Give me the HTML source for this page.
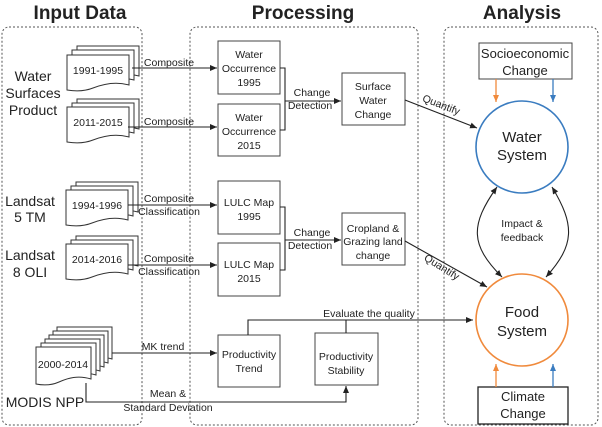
<!DOCTYPE html>
<html><head><meta charset="utf-8"><style>
html,body{margin:0;padding:0;background:#fff;}
svg{display:block;font-family:"Liberation Sans","DejaVu Sans",sans-serif;}
text{fill:#222;}
</style></head><body>
<svg width="602" height="427" viewBox="0 0 602 427" xmlns="http://www.w3.org/2000/svg">
<defs>
<marker id="a" markerWidth="8" markerHeight="8" refX="7" refY="4" orient="auto" markerUnits="userSpaceOnUse"><path d="M0,1 L7,4 L0,7 z" fill="#222"/></marker>
<marker id="ao" markerWidth="8" markerHeight="8" refX="7" refY="4" orient="auto" markerUnits="userSpaceOnUse"><path d="M0,1 L7,4 L0,7 z" fill="#f08a3c"/></marker>
<marker id="ab" markerWidth="8" markerHeight="8" refX="7" refY="4" orient="auto" markerUnits="userSpaceOnUse"><path d="M0,1 L7,4 L0,7 z" fill="#3a7cc0"/></marker>
<marker id="as" markerWidth="8" markerHeight="8" refX="1" refY="4" orient="auto" markerUnits="userSpaceOnUse"><path d="M8,1 L1,4 L8,7 z" fill="#222"/></marker>
<path id="d" d="M0,0 H62 V30 C48,26 36,29 26,33 C16,37 6,36 0,35 Z" fill="#fff" stroke="#333" stroke-width="1"/>
<path id="m" d="M0,0 H55 V32 C42,28 32,31 23,35 C14,39 5,38 0,37 Z" fill="#fff" stroke="#333" stroke-width="1"/>
</defs>

<g font-weight="bold" font-size="19" text-anchor="middle">
<text x="80" y="19">Input Data</text>
<text x="303" y="19">Processing</text>
<text x="522" y="19">Analysis</text>
</g>

<g fill="none" stroke="#555" stroke-dasharray="2,2" stroke-width="1">
<rect x="2" y="27" width="140" height="398" rx="7"/>
<rect x="190" y="27" width="228" height="398" rx="7"/>
<rect x="444" y="27" width="154" height="398" rx="7"/>
</g>

<g font-size="14" text-anchor="middle">
<text x="33" y="81">Water</text>
<text x="33" y="98">Surfaces</text>
<text x="33" y="115">Product</text>
<text x="30" y="206">Landsat</text>
<text x="30" y="222">5 TM</text>
<text x="30" y="260">Landsat</text>
<text x="30" y="277">8 OLI</text>
<text x="45" y="407">MODIS NPP</text>
</g>

<g>
<use href="#d" x="77" y="46"/><use href="#d" x="72" y="50"/><use href="#d" x="67" y="55"/>
<use href="#d" x="77" y="99"/><use href="#d" x="72" y="103"/><use href="#d" x="67" y="107"/>
<use href="#d" x="76" y="182"/><use href="#d" x="71" y="186"/><use href="#d" x="66" y="190"/>
<use href="#d" x="76" y="236"/><use href="#d" x="71" y="240"/><use href="#d" x="66" y="244"/>
<use href="#m" x="57" y="327"/><use href="#m" x="53" y="331"/><use href="#m" x="49" y="335"/><use href="#m" x="45" y="339"/><use href="#m" x="41" y="343"/><use href="#m" x="36" y="347"/>
</g>
<g font-size="10.5" text-anchor="middle">
<text x="98" y="74">1991-1995</text>
<text x="98" y="126">2011-2015</text>
<text x="97" y="209">1994-1996</text>
<text x="97" y="263">2014-2016</text>
<text x="63" y="368">2000-2014</text>
</g>

<g fill="#fff" stroke="#444" stroke-width="1">
<rect x="218" y="41" width="62" height="53"/>
<rect x="218" y="104" width="62" height="52"/>
<rect x="218" y="181" width="62" height="53"/>
<rect x="218" y="243" width="62" height="53"/>
<rect x="218" y="335" width="62" height="52"/>
<rect x="315" y="333" width="63" height="52"/>
<rect x="342" y="73" width="63" height="52"/>
<rect x="342" y="213" width="63" height="52"/>
<rect x="479" y="43" width="93" height="36"/>
<rect x="478" y="387" width="90" height="37" stroke="#222" stroke-width="1.3"/>
</g>
<g font-size="10.5" text-anchor="middle">
<text x="249" y="58">Water</text><text x="249" y="72">Occurrence</text><text x="249" y="86">1995</text>
<text x="249" y="121">Water</text><text x="249" y="135">Occurrence</text><text x="249" y="149">2015</text>
<text x="249" y="206">LULC Map</text><text x="249" y="220">1995</text>
<text x="249" y="268">LULC Map</text><text x="249" y="282">2015</text>
<text x="249" y="358">Productivity</text><text x="249" y="372">Trend</text>
<text x="346" y="360">Productivity</text><text x="346" y="374">Stability</text>
<text x="373" y="90">Surface</text><text x="373" y="104">Water</text><text x="373" y="118">Change</text>
<text x="373" y="232">Cropland &amp;</text><text x="373" y="245">Grazing land</text><text x="373" y="259">change</text>
</g>
<g font-size="13" text-anchor="middle">
<text x="525" y="58">Socioeconomic</text><text x="525" y="75">Change</text>
<text x="523" y="401">Climate</text><text x="523" y="418">Change</text>
</g>

<g fill="none" stroke="#222" stroke-width="1.1">
<line x1="132" y1="68" x2="217" y2="68" marker-end="url(#a)"/>
<line x1="128" y1="127" x2="217" y2="127" marker-end="url(#a)"/>
<line x1="128" y1="205" x2="217" y2="205" marker-end="url(#a)"/>
<line x1="128" y1="265" x2="217" y2="265" marker-end="url(#a)"/>
<line x1="112" y1="353" x2="217" y2="353" marker-end="url(#a)"/>
<polyline points="86,383 86,402 346,402 346,386" marker-end="url(#a)"/>
<polyline points="280,68 285,68 285,130 280,130"/>
<line x1="285" y1="101" x2="341" y2="101" marker-end="url(#a)"/>
<polyline points="280,207 285,207 285,270 280,270"/>
<line x1="285" y1="240" x2="341" y2="240" marker-end="url(#a)"/>
<polyline points="248,335 248,320 473,320" marker-end="url(#a)"/>
<line x1="346" y1="333" x2="346" y2="320"/>
<line x1="405" y1="100" x2="477" y2="128" marker-end="url(#a)"/>
<line x1="405" y1="241" x2="487" y2="287" marker-end="url(#a)"/>
<path d="M497,187 C470,225 470,245 502,277" marker-start="url(#as)" marker-end="url(#a)"/>
<path d="M552,187 C575,225 575,245 546,277" marker-start="url(#as)" marker-end="url(#a)"/>
</g>
<g stroke-width="1.3" fill="none">
<line x1="496" y1="79" x2="496" y2="102" stroke="#f08a3c" marker-end="url(#ao)"/>
<line x1="553" y1="79" x2="553" y2="102" stroke="#3a7cc0" marker-end="url(#ab)"/>
<line x1="496" y1="387" x2="496" y2="364" stroke="#f08a3c" marker-end="url(#ao)"/>
<line x1="553" y1="387" x2="553" y2="364" stroke="#3a7cc0" marker-end="url(#ab)"/>
<circle cx="522" cy="147" r="46" stroke="#3a7cc0" stroke-width="1.6" fill="#fff"/>
<circle cx="522" cy="320" r="46" stroke="#f08a3c" stroke-width="1.6" fill="#fff"/>
</g>
<g font-size="15" text-anchor="middle">
<text x="522" y="142">Water</text><text x="522" y="160">System</text>
<text x="522" y="317">Food</text><text x="522" y="336">System</text>
</g>

<g font-size="10.5" text-anchor="middle">
<text x="169" y="66">Composite</text>
<text x="169" y="125">Composite</text>
<text x="169" y="202">Composite</text><text x="169" y="215">Classification</text>
<text x="169" y="262">Composite</text><text x="169" y="275">Classification</text>
<text x="163" y="350">MK trend</text>
<text x="168" y="397">Mean &amp;</text><text x="168" y="411">Standard Deviation</text>
<text x="312" y="96">Change</text><text x="310" y="109">Detection</text>
<text x="312" y="236">Change</text><text x="310" y="249">Detection</text>
<text x="369" y="317">Evaluate the quality</text>
<text x="522" y="227">Impact &amp;</text><text x="522" y="241">feedback</text>
<text x="440" y="108" transform="rotate(21 440 108)">Quantify</text>
<text x="440" y="270" transform="rotate(32 440 270)">Quantify</text>
</g>
</svg>
</body></html>
